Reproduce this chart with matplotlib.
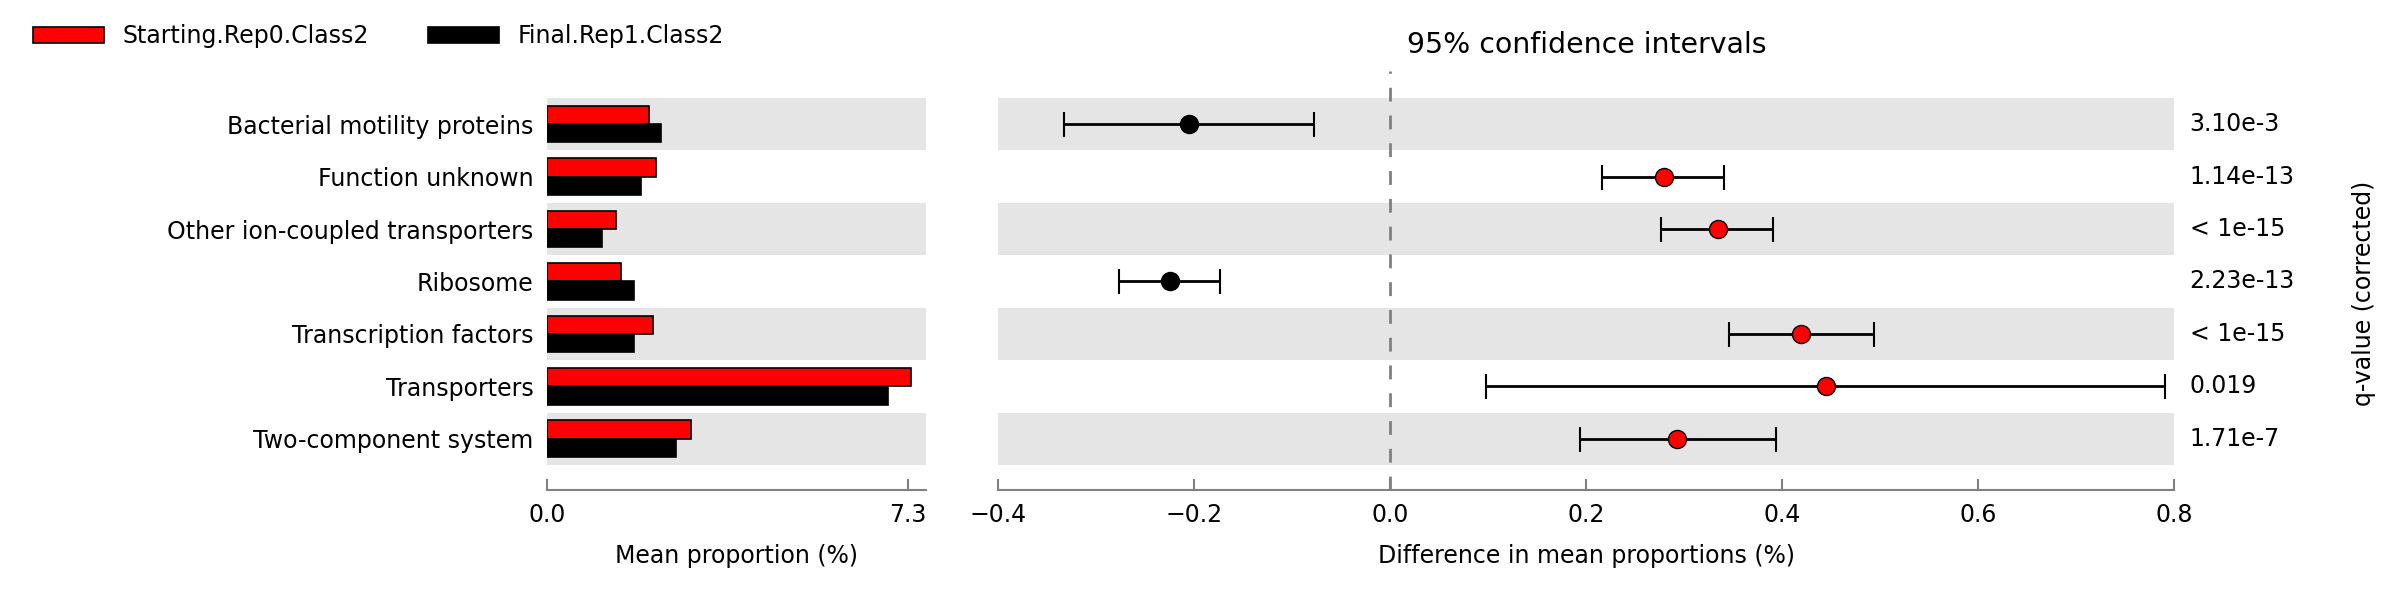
import numpy as np
import matplotlib.pyplot as plt

features = ['Bacterial motility proteins', 'Function unknown', 'Other ion-coupled transporters',
            'Ribosome', 'Transcription factors', 'Transporters', 'Two-component system']
start_prop = [2.05, 2.2, 1.4, 1.5, 2.15, 7.35, 2.9]
final_prop = [2.3, 1.9, 1.1, 1.75, 1.75, 6.9, 2.6]
diff = [-0.206, 0.279, 0.334, -0.225, 0.419, 0.444, 0.292]
ci_low = [-0.333, 0.216, 0.276, -0.277, 0.346, 0.098, 0.193]
ci_high = [-0.078, 0.340, 0.390, -0.174, 0.493, 0.790, 0.393]
qvals = ['3.10e-3', '1.14e-13', '< 1e-15', '2.23e-13', '< 1e-15', '0.019', '1.71e-7']

plt.rcParams['font.size'] = 17
fig = plt.figure(figsize=(24, 6.12), dpi=100)
ax1 = fig.add_axes([0.228, 0.2, 0.158, 0.64])
ax2 = fig.add_axes([0.416, 0.2, 0.49, 0.64])

y = np.arange(len(features))
ylim = (6.97, -0.5)
for ax in (ax1, ax2):
    for i in range(0, len(features), 2):
        ax.axhspan(i - 0.5, i + 0.5, color='#e5e5e5', zorder=0, lw=0)
    ax.set_ylim(*ylim)
    for s in ['top', 'right', 'left']:
        ax.spines[s].set_visible(False)
    ax.spines['bottom'].set_color('grey')
    ax.spines['bottom'].set_linewidth(1.5)
    ax.tick_params(axis='x', direction='in', color='grey', length=8, width=1.5, pad=10)
    ax.set_yticks([])

h = 0.35
b1 = ax1.barh(y - h / 2, start_prop, height=h, color='red', edgecolor='black', lw=1.2, label='Starting.Rep0.Class2')
b2 = ax1.barh(y + h / 2, final_prop, height=h, color='black', edgecolor='black', lw=1.2, label='Final.Rep1.Class2')
ax1.set_xlim(0, 7.67)
ax1.set_xticks([0, 7.3], ['0.0', '7.3'])
ax1.set_yticks(y, features)
ax1.tick_params(axis='y', length=0, pad=10)
ax1.set_xlabel('Mean proportion (%)', labelpad=12)
fig.legend(handles=[b1, b2], loc='upper left', bbox_to_anchor=(0.005, 0.995), ncol=2,
           frameon=False, handlelength=3, columnspacing=2.5)

ax2.set_xlim(-0.4, 0.8)
ax2.set_xticks([-0.4, -0.2, 0, 0.2, 0.4, 0.6, 0.8], ['\u22120.4', '\u22120.2', '0.0', '0.2', '0.4', '0.6', '0.8'])
ax2.axvline(0, color='grey', ls=(0, (5, 5)), lw=2, ymin=0, ymax=1.07, clip_on=False)
for i in range(len(features)):
    c = 'red' if diff[i] > 0 else 'black'
    ax2.errorbar(diff[i], i, xerr=[[diff[i] - ci_low[i]], [ci_high[i] - diff[i]]], fmt='o',
                 color='black', mfc=c, mec='black', ms=13, elinewidth=2, capsize=9, capthick=1.5, zorder=3)
    ax2.text(1.013, i, qvals[i], transform=ax2.get_yaxis_transform(), va='center', ha='left')
ax2.set_xlabel('Difference in mean proportions (%)', labelpad=12)
ax2.set_title('95% confidence intervals', pad=32)
fig.text(0.985, 0.52, 'q-value (corrected)', rotation=90, va='center', ha='center')

fig.savefig('out.png')
